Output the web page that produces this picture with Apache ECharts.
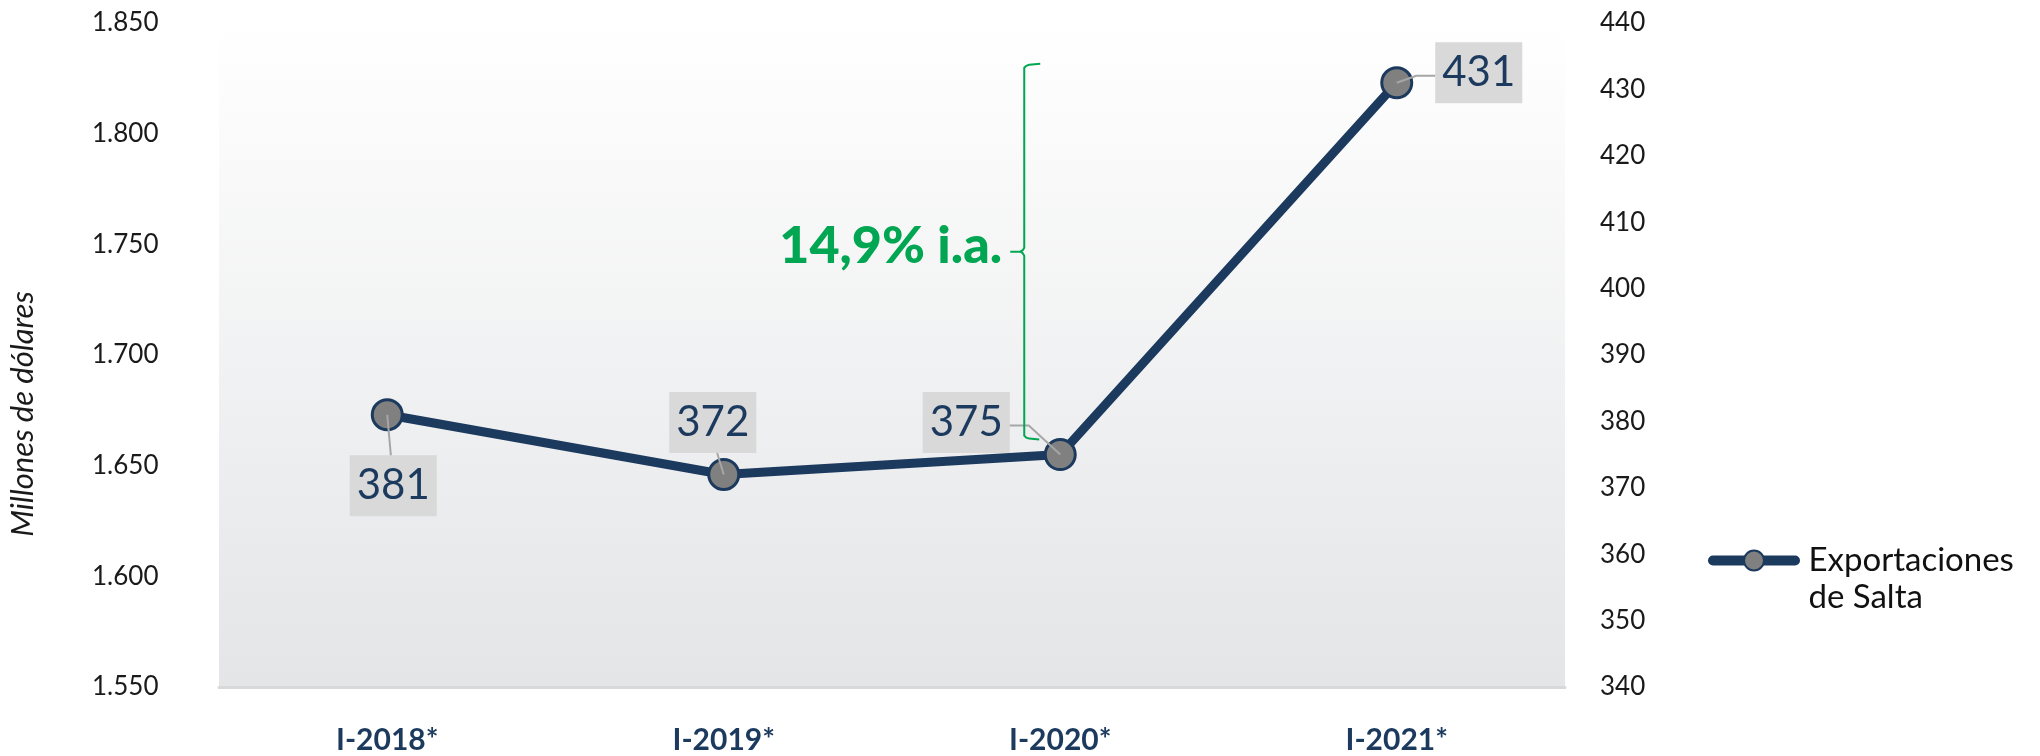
<!DOCTYPE html>
<html>
<head>
<meta charset="utf-8">
<title>Exportaciones de Salta</title>
<script src="https://cdn.jsdelivr.net/npm/echarts@6/dist/echarts.min.js"></script>
<style>
  html, body { margin: 0; padding: 0; background: #ffffff; }
  #chart { width: 2040px; height: 756px; }
</style>
</head>
<body>
<div id="chart"></div>
<script>
// Exportaciones de Salta, primer trimestre de cada año (millones de dólares)
const categories = ['I-2018*', 'I-2019*', 'I-2020*', 'I-2021*'];
const exportValues = [381, 372, 375, 431];
const seriesName = 'Exportaciones\nde Salta';

// Escalas de los dos ejes verticales
const leftTicks = [1550, 1600, 1650, 1700, 1750, 1800, 1850];
const rightTicks = [340, 350, 360, 370, 380, 390, 400, 410, 420, 430, 440];

// Variación interanual destacada entre I-2020 y I-2021
const highlightText = '14,9% i.a.';
const highlightFrom = 2;
const highlightTo = 3;

// Desplazamiento de cada etiqueta respecto de su punto (px)
const labelOffsets = [[6, 71], [-11, -52], [-94, -32], [82, -10]];

const NAVY = '#1c3a5e';
const GREEN = '#00a651';
const GUIDE = '#a6a6a6';
const FONT = 'Lato, "Noto Sans", sans-serif';
const LABEL_SIZE = 42, LABEL_LH = 51, LABEL_PAD = [5, 7];

function thousands(v) {
  const s = String(Math.round(v));
  return s.replace(/\B(?=(\d{3})+(?!\d))/g, '.');
}

const chart = echarts.init(document.getElementById('chart'), null, { renderer: 'canvas' });

chart.setOption({
  animation: false,
  backgroundColor: '#ffffff',
  grid: {
    left: 219, right: 475, top: 23, bottom: 69,
    show: true,
    borderWidth: 0,
    backgroundColor: new echarts.graphic.LinearGradient(0, 0, 0, 1, [
      { offset: 0, color: '#ffffff' },
      { offset: 1, color: '#e4e5e7' }
    ])
  },
  legend: {
    data: [seriesName],
    orient: 'vertical',
    left: 1708,
    top: 505,
    padding: 0,
    itemWidth: 82,
    itemHeight: 25,
    lineStyle: { color: NAVY, width: 10, cap: 'round' },
    itemStyle: { color: '#808080', borderColor: NAVY, borderWidth: 2 },
    // una línea vacía arriba deja el icono a la altura del primer renglón
    formatter: function (name) {
      return ' \n' + name.split('\n').map(function (s) { return ' ' + s; }).join('\n');
    },
    textStyle: {
      fontFamily: FONT, fontSize: 33, color: '#111111', lineHeight: 37
    }
  },
  xAxis: {
    type: 'category',
    data: categories,
    boundaryGap: true,
    axisLine: { show: true, lineStyle: { color: '#d9d9d9', width: 3 } },
    axisTick: { show: false },
    splitLine: { show: false },
    axisLabel: {
      margin: 38, fontFamily: FONT, fontSize: 30, fontWeight: 'bold', color: NAVY
    }
  },
  yAxis: [
    {
      type: 'value',
      position: 'left',
      min: leftTicks[0],
      max: leftTicks[leftTicks.length - 1],
      interval: leftTicks[1] - leftTicks[0],
      axisLine: { show: false },
      axisTick: { show: false },
      splitLine: { show: false },
      axisLabel: {
        align: 'left', margin: 127,
        fontFamily: FONT, fontSize: 26, color: '#1a1a1a',
        formatter: thousands
      }
    },
    {
      type: 'value',
      position: 'right',
      min: rightTicks[0],
      max: rightTicks[rightTicks.length - 1],
      interval: rightTicks[1] - rightTicks[0],
      axisLine: { show: false },
      axisTick: { show: false },
      splitLine: { show: false },
      axisLabel: {
        align: 'left', margin: 35,
        fontFamily: FONT, fontSize: 26, color: '#1a1a1a'
      }
    }
  ],
  series: [{
    name: seriesName,
    type: 'line',
    yAxisIndex: 1,
    data: exportValues,
    symbol: 'circle',
    symbolSize: 30,
    lineStyle: { color: NAVY, width: 9 },
    itemStyle: { color: '#808080', borderColor: NAVY, borderWidth: 3 },
    z: 3,
    label: {
      show: true,
      position: 'inside',
      fontFamily: FONT,
      fontSize: LABEL_SIZE,
      lineHeight: LABEL_LH,
      color: NAVY,
      backgroundColor: '#d9d9d9',
      padding: LABEL_PAD
    },
    labelLayout: function (params) {
      const o = labelOffsets[params.dataIndex];
      return { dx: o[0], dy: o[1] };
    }
  }]
});

// Líneas guía desde cada punto hasta su etiqueta
function guideLines() {
  const ctx = document.createElement('canvas').getContext('2d');
  ctx.font = LABEL_SIZE + 'px ' + FONT;
  const els = [];
  exportValues.forEach(function (v, i) {
    const p = chart.convertToPixel({ xAxisIndex: 0, yAxisIndex: 1 }, [categories[i], v]);
    const dx = labelOffsets[i][0], dy = labelOffsets[i][1];
    const cx = p[0] + dx, cy = p[1] + dy;
    const halfW = (ctx.measureText(String(v)).width + 2 * LABEL_PAD[1]) / 2;
    const halfH = (LABEL_LH + 2 * LABEL_PAD[0]) / 2;
    let pts;
    if (Math.abs(dy) > Math.abs(dx)) {
      const ey = dy > 0 ? cy - halfH : cy + halfH;
      pts = [[p[0], p[1]], [p[0] + dx * 0.6, ey]];
    } else {
      const ex = dx > 0 ? cx - halfW : cx + halfW;
      const ly = cy - 3 * Math.sign(dy);
      const bend = dx > 0 ? ex - 19 : ex + 19;
      pts = [[p[0], p[1]], [bend, ly], [ex, ly]];
    }
    els.push({
      type: 'polyline',
      shape: { points: pts },
      style: { fill: null, stroke: GUIDE, lineWidth: 2 },
      z: 10
    });
  });
  return els;
}

// Llave y texto de la variación, ubicados con las escalas del gráfico
function annotations() {
  const xPx = chart.convertToPixel({ xAxisIndex: 0 }, categories[highlightFrom]);
  const T = chart.convertToPixel({ yAxisIndex: 1 }, exportValues[highlightTo]) - 18;
  const B = chart.convertToPixel({ yAxisIndex: 1 }, exportValues[highlightFrom]) - 16;
  const X = xPx - 36;
  const M = (T + B) / 2;
  const braceStyle = { fill: null, stroke: GREEN, lineWidth: 2 };
  return [
    {
      type: 'polyline',
      shape: {
        points: [
          [X + 16, T - 1], [X + 5, T], [X + 2, T + 1], [X, T + 3],
          [X, M - 4], [X - 1.5, M - 1.5], [X - 4, M], [X - 14, M]
        ]
      },
      style: braceStyle,
      z: 10
    },
    {
      type: 'polyline',
      shape: {
        points: [
          [X - 4, M], [X - 1.5, M + 1.5], [X, M + 4],
          [X, B - 3], [X + 2, B - 1], [X + 5, B], [X + 15, B + 1]
        ]
      },
      style: braceStyle,
      z: 10
    },
    {
      type: 'text',
      x: X - 22,
      y: M - 5,
      style: {
        text: highlightText,
        fill: GREEN,
        fontFamily: FONT,
        fontSize: 52,
        fontWeight: 900,
        align: 'right',
        verticalAlign: 'middle'
      },
      z: 10
    },
    {
      type: 'text',
      x: 23,
      y: 414,
      rotation: Math.PI / 2,
      style: {
        text: 'Millones de dólares',
        fill: '#1a1a1a',
        fontFamily: FONT,
        fontSize: 31,
        fontStyle: 'italic',
        fontWeight: 'normal',
        align: 'center',
        verticalAlign: 'middle'
      }
    }
  ];
}

chart.setOption({ graphic: guideLines().concat(annotations()) });
</script>
</body>
</html>
